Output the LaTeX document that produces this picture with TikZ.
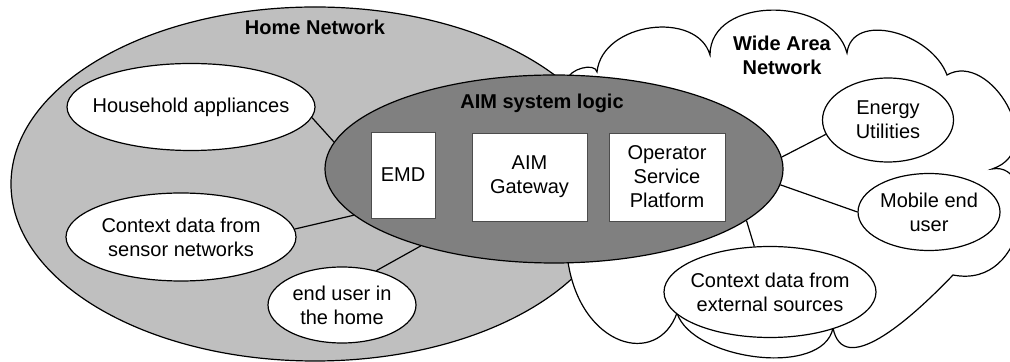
\documentclass[tikz,border=0pt]{standalone}
\usepackage{fontspec}
\setmainfont{Liberation Sans}
\usepackage{tikz}
\usetikzlibrary{shapes.geometric}

\definecolor{homegray}{gray}{0.75}
\definecolor{aimgray}{gray}{0.5}

\tikzset{
  bub/.style={ellipse, draw, fill=white, line width=0.6pt, inner sep=0pt},
  unit/.style={rectangle, draw=black!70, fill=white, align=center, inner sep=0pt},
  netlbl/.style={font=\bfseries, align=center},
  link/.style={line width=0.6pt}
}

\begin{document}
\begin{tikzpicture}[x=0.5pt, y=-0.5pt]
    \useasboundingbox (0,0) rectangle (1010,362);
    \clip (0,0) rectangle (1010,362);

    % Heimnetz
    \draw[fill=homegray, line width=0.6pt] (315,184) ellipse [x radius=304, y radius=177];
    \node[netlbl] (homelbl) at (315,27) {Home Network};

    % Weitverkehrsnetz (Wolke)
    \draw[fill=white, line width=0.6pt] (567,80)
        .. controls (569,69) and (595,62) .. (597,72)
        .. controls (602,22) and (697,10) .. (710,55)
        .. controls (710,-5) and (832,-4) .. (847,53)
        .. controls (852,11) and (931,32) .. (947,75)
        .. controls (990,50) and (1050,150) .. (992,169)
        .. controls (1040,160) and (1030,290) .. (953,275)
        .. controls (908,322) and (843,378) .. (833,328)
        .. controls (823,378) and (692,360) .. (677,313)
        .. controls (657,368) and (581,347) .. (568,262)
        -- cycle;
    \node[netlbl] (wanlbl) at (782,55) {Wide Area\\Network};

    % AIM Systemlogik
    \node[ellipse, draw, fill=aimgray, line width=0.6pt, minimum width=229pt, minimum height=94pt] (aim) at (554,169) {};
    \node[netlbl] (aimlbl) at (542,103) {AIM system logic};
    \node[unit, minimum width=32pt, minimum height=43pt] (emd) at (403,175) {EMD};
    \node[unit, minimum width=57.5pt, minimum height=44pt] (gw) at (529.5,177) {AIM\\Gateway};
    \node[unit, minimum width=58pt, minimum height=44pt] (osp) at (667,177) {Operator\\Service\\Platform};

    % Teilnehmer im Heimnetz
    \node[bub, minimum width=124pt, minimum height=43.5pt, label={[align=center]center:Household appliances}] (hh) at (191,107) {};
    \node[bub, minimum width=115pt, minimum height=44pt, label={[align=center]center:Context data from\\sensor networks}] (sens) at (181,237) {};
    \node[bub, minimum width=74pt, minimum height=38pt, label={[align=center]center:end user in\\the home}] (eu) at (342,305) {};

    % Teilnehmer im WAN
    \node[bub, minimum width=65.5pt, minimum height=42pt, label={[align=center]center:Energy\\Utilities}] (en) at (888,120) {};
    \node[bub, minimum width=71pt, minimum height=38.5pt, label={[align=center]center:Mobile end\\user}] (mob) at (929,212) {};
    \node[bub, minimum width=106pt, minimum height=45.5pt, label={[align=center]center:Context data from\\external sources}] (ext) at (770,292) {};

    % Verbindungen
    \draw[link] (hh.-5) -- (aim.173);
    \draw[link] (sens.4) -- (aim.193);
    \draw[link] (eu.45) -- (aim.210);
    \draw[link] (aim.3.5) -- (en.193);
    \draw[link] (aim.-4) -- (mob.180);
    \draw[link] (aim.-15.6) -- (ext.109);
\end{tikzpicture}
\end{document}
